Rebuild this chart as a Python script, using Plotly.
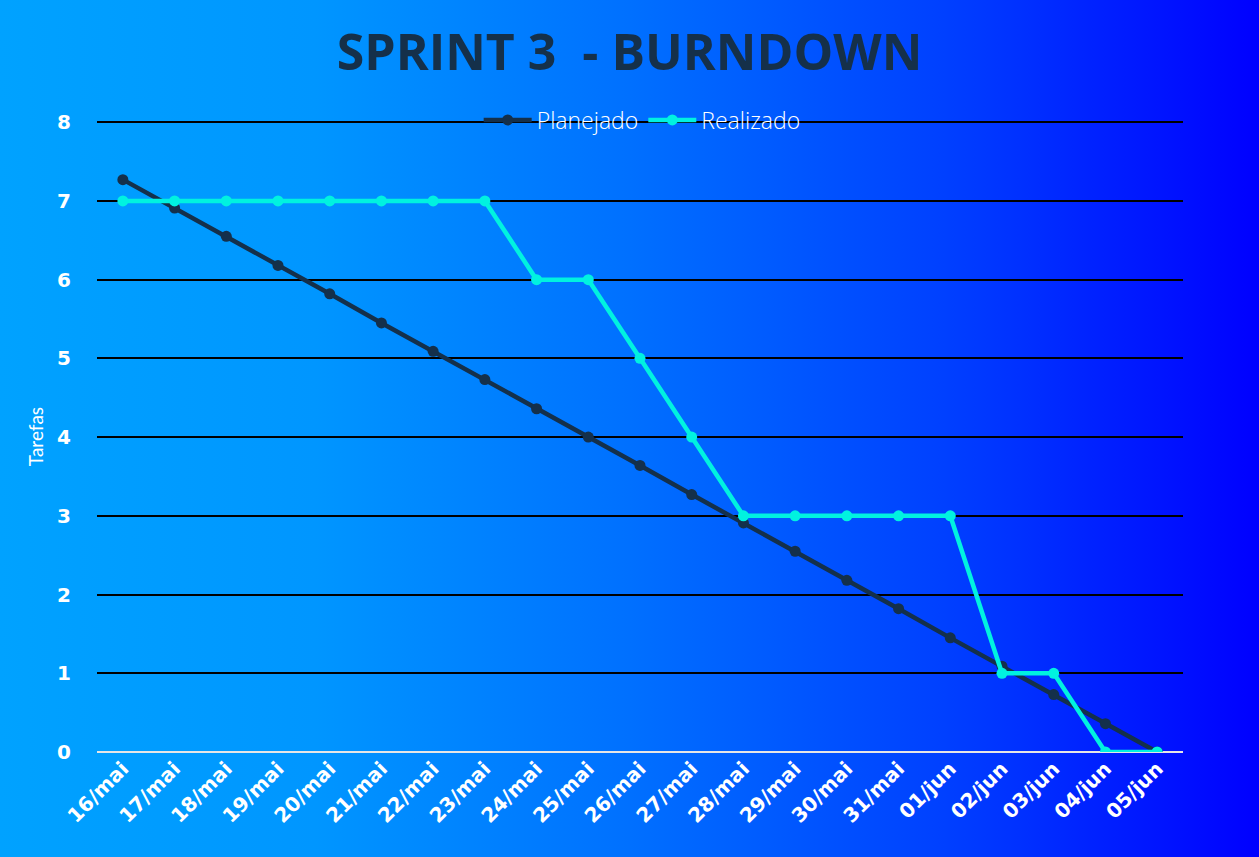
import plotly.graph_objects as go
import base64

dates = ["16/mai", "17/mai", "18/mai", "19/mai", "20/mai", "21/mai", "22/mai", "23/mai",
         "24/mai", "25/mai", "26/mai", "27/mai", "28/mai", "29/mai", "30/mai", "31/mai",
         "01/jun", "02/jun", "03/jun", "04/jun", "05/jun"]
planejado = [7.27, 6.91, 6.55, 6.18, 5.82, 5.45, 5.09, 4.73, 4.36, 4.00, 3.64,
             3.27, 2.91, 2.55, 2.18, 1.82, 1.45, 1.09, 0.73, 0.36, 0.00]
realizado = [7, 7, 7, 7, 7, 7, 7, 7, 6, 6, 5, 4, 3, 3, 3, 3, 3, 1, 1, 0, 0]
y_ticks = [0, 1, 2, 3, 4, 5, 6, 7, 8]

W, H = 1259, 857
ML, MR, MT, MB = 97, 76, 121, 105
PW, PH = W - ML - MR, H - MT - MB

svg = (
    '<svg xmlns="http://www.w3.org/2000/svg" width="1259" height="857" preserveAspectRatio="none">'
    '<defs><linearGradient id="g" x1="0" y1="0" x2="1" y2="0">'
    '<stop offset="0" stop-color="#00a2ff"/>'
    '<stop offset="0.25" stop-color="#0096ff"/>'
    '<stop offset="0.5" stop-color="#0070ff"/>'
    '<stop offset="0.75" stop-color="#0040ff"/>'
    '<stop offset="1" stop-color="#0000ff"/>'
    '</linearGradient></defs>'
    '<rect x="0" y="0" width="1259" height="857" fill="url(#g)"/></svg>'
)
src = "data:image/svg+xml;base64," + base64.b64encode(svg.encode()).decode()

fig = go.Figure()
fig.add_trace(go.Scatter(
    x=dates, y=planejado, name="Planejado", mode="lines+markers",
    line=dict(color="#14304b", width=4.5),
    marker=dict(color="#14304b", size=11),
))
fig.add_trace(go.Scatter(
    x=dates, y=realizado, name="Realizado", mode="lines+markers",
    line=dict(color="#00f2e0", width=4.5),
    marker=dict(color="#00f2e0", size=11),
))

fig.update_layout(
    width=W, height=H,
    margin=dict(l=ML, r=MR, t=MT, b=MB),
    paper_bgcolor="#0070ff",
    plot_bgcolor="rgba(0,0,0,0)",
    images=[dict(source=src, xref="paper", yref="paper",
                 x=-ML / PW, y=1 + MT / PH, sizex=W / PW, sizey=H / PH,
                 xanchor="left", yanchor="top", sizing="stretch", layer="below")],
    title=dict(text="SPRINT 3  - BURNDOWN", x=0.5, xanchor="center",
               y=1 - 52 / H, yanchor="middle",
               font=dict(family="Open Sans", size=50, color="#15304a", weight=700)),
    legend=dict(orientation="h", x=0.502, xanchor="center", y=1 + 1 / PH, yanchor="middle",
                bgcolor="rgba(0,0,0,0)",
                font=dict(family="Open Sans", size=23, color="white", weight=300),
                itemwidth=48, tracegroupgap=0),
    showlegend=True,
)
fig.update_xaxes(
    type="category", range=[-0.5, len(dates) - 0.5], tickangle=-45,
    showgrid=False, showline=False, zeroline=False,
    ticks="", tickfont=dict(family="DejaVu Sans", size=20, color="white", weight=700),
)
fig.update_yaxes(
    range=[0, 8.015], tickvals=y_ticks, showgrid=True, gridcolor="black", gridwidth=2,
    zeroline=True, zerolinecolor="#e6e6e6", zerolinewidth=2, showline=False,
    ticks="", ticklabelstandoff=25,
    tickfont=dict(family="DejaVu Sans", size=20, color="white", weight=700),
    title=dict(text="Tarefas", font=dict(family="Lato", size=19, color="white"), standoff=8),
)

fig.write_html("out.html", config={"displayModeBar": False},
               post_script="document.body.style.margin='0';")
